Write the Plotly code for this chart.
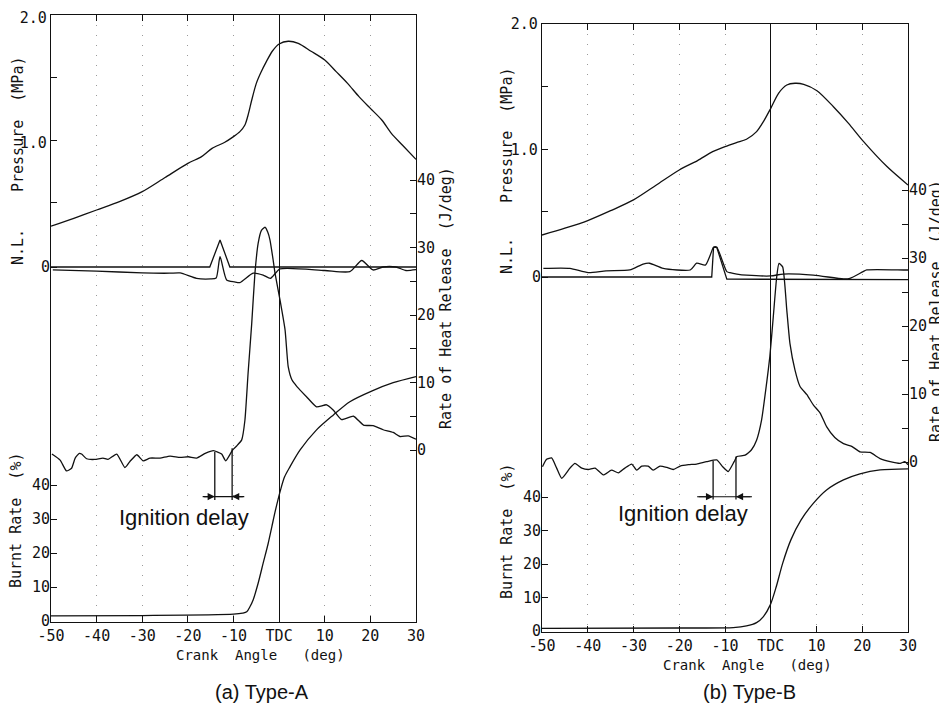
import plotly.graph_objects as go

W, H = 947, 711          # browser window
OFF = 8                  # default page margin of the html body
FW, FH = W - OFF, H - OFF

# ---------------- data: shared ----------------
x_tick_vals = [-50, -40, -30, -20, -10, 0, 10, 20, 30]
x_tick_text = ['-50', '-40', '-30', '-20', '-10', 'TDC', '10', '20', '30']

# ---------------- data: (a) Type-A ----------------
a_p_deg = [-50, -45, -40, -35, -30, -25, -20, -17, -14.7, -12, -10, -8.6, -7.5, -6.8, -6, -5, -4, -2.8, -1.5,
           0, 2, 4.2, 7, 10, 12.5, 15, 17.5, 20, 22.5, 24.6, 27, 30]
a_p_val = [0.31, 0.373, 0.44, 0.507, 0.587, 0.70, 0.813, 0.867, 0.933, 0.98, 1.027, 1.067, 1.12, 1.2, 1.32,
           1.453, 1.54, 1.627, 1.71, 1.768, 1.79, 1.773, 1.71, 1.64, 1.547, 1.453, 1.347, 1.253, 1.16,
           1.053, 0.96, 0.845]

a_hr_deg = [-49.8, -48, -46.6, -45.5, -44.7, -43.8, -43.3, -42.2, -40.4, -38.6, -37.5, -35.6, -33.8, -32.7,
            -31.2, -29.8, -28.3, -26.1, -23.9, -21.7, -19.9, -18.1, -16.2, -14.4, -12.6, -11.7, -10.2, -9.3,
            -8.2, -7.5, -6.8, -6.0, -5.3, -4.6, -3.9, -3.1, -2.5, -2.0, -1.3, -0.9, 0.2, 1.3, 2.0, 2.8, 3.9,
            6.0, 8.2, 10.4, 11.9, 13.7, 16.3, 18.5, 20.6, 22.8, 25.0, 26.5, 28.3, 30]
a_hr_val = [-0.6, -1.5, -3.1, -2.7, -1.2, -0.5, -0.6, -1.3, -1.4, -1.2, -1.4, -0.6, -2.6, -1.7,
            -0.7, -1.6, -1.2, -1.2, -0.9, -1.1, -1.0, -1.2, -0.5, -0.1, -0.6, -1.6, 0.0, 0.6,
            1.5, 4.4, 11.4, 18.8, 26.2, 30.6, 32.5, 33.0, 32.3, 31.1, 28.1, 26.2, 22.2, 17.8, 12.3, 10.4, 9.4,
            7.9, 6.4, 6.7, 5.9, 4.5, 5.0, 3.7, 3.6, 3.0, 2.6, 2.0, 2.1, 1.6]

a_br_deg = [-50, -30, -10, -8, -7.1, -6.4, -5.7, -4.6, -3.5, -2.4, -1.6, -0.8, 0.3, 1.2, 2.4, 4.6, 8.2,
            11.9, 15.5, 20.4, 25, 30]
a_br_val = [1.5, 1.6, 2.0, 2.3, 2.7, 4.2, 6.2, 11.1, 17.0, 22.8, 27.7, 32.6, 38.5, 42.4, 45.4, 50.3, 56.2,
            60.6, 64.5, 67.7, 70.1, 71.9]

a_nl_deg = [-50, -15.2, -12.95, -10.8, 30]
a_nl_val = [0, 0, 1.0, 0, 0]

a_nl2_deg = [-49.6, -40, -30, -24, -21.7, -18.1, -15, -13.8, -12.95, -11.5, -9.8, -8.6, -5.7, -3.5, -1.9,
             0.2, 10, 15.5, 18.1, 20.6, 22.7, 25.6, 27.8, 30]
a_nl2_val = [-0.11, -0.15, -0.22, -0.23, -0.22, -0.42, -0.44, -0.41, 0.38, -0.48, -0.55, -0.58, -0.23,
             -0.30, -0.42, -0.07, -0.13, -0.17, 0.24, -0.11, 0.0, 0.0, -0.13, -0.10]

a_ign = [-14.1, -10.3]          # ignition delay interval (deg)
a_ign_top = [-0.25, 0.25]       # J/deg where the markers meet the curve
a_ign_bottom = -7.4
a_ign_arrow = -6.9

# ---------------- data: (b) Type-B ----------------
b_p_deg = [-50, -45, -40, -35, -30, -25, -20, -16, -12.7, -10, -7.5, -5.3, -3.1, -1.6, 0, 1.7, 3.5, 5.3,
           7.2, 10.1, 13.7, 17, 20.3, 25.4, 30]
b_p_val = [0.316, 0.37, 0.431, 0.51, 0.596, 0.715, 0.835, 0.91, 0.981, 1.021, 1.053, 1.08, 1.141, 1.221,
           1.327, 1.447, 1.513, 1.527, 1.519, 1.468, 1.34, 1.207, 1.061, 0.862, 0.715]

b_hr_deg = [-49.9, -49, -47.9, -46.8, -45.7, -43.9, -42.8, -41.3, -39.9, -38.4, -36.6, -34.8, -33.3, -31.9,
            -30.4, -29.3, -28.2, -26.8, -25.7, -24.2, -22.7, -21.3, -19.8, -18.0, -16.2, -14.0, -11.8,
            -10.5, -9.3, -8.0, -7.4, -5.6, -4.2, -3.1, -2.0, -0.9, -0.2, 0.56, 1.3, 1.8, 2.6, 3.5, 4.2,
            5.3, 6.4, 7.9, 9.3, 10.8, 12.2, 14.0, 15.9, 17.7, 19.5, 21.7, 23.9, 26.1, 28.3, 29.3, 30]
b_hr_val = [-0.7, 0.4, 0.6, -0.9, -2.4, -0.9, -0.2, -0.9, -1.1, -0.9, -1.9, -1.2, -1.6, -0.9,
            -0.3, -1.2, -0.6, -0.6, -1.2, -0.6, -0.8, -1.1, -0.6, -0.4, -0.3, 0.05, 0.3,
            -0.7, -1.4, 0.05, 0.8, 1.0, 1.8, 3.2, 6.2, 11.6, 15.5, 21.4, 27.2, 29.2, 28.7, 22.4, 17.4,
            13.5, 11.1, 9.9, 8.4, 7.2, 5.2, 3.6, 2.7, 2.3, 1.5, 1.4, 0.5, 0.05, -0.2, 0.05, -0.4]

b_br_deg = [-50, -20, -8.2, -5.3, -3.1, -1.6, -0.1, 1.2, 2.6, 4.4, 6.6, 9.3, 12.2, 15.9, 19.5, 23.9, 30]
b_br_val = [0.8, 0.9, 1.0, 1.5, 2.5, 4.3, 7.8, 13.2, 20.2, 27.2, 33.1, 38.1, 42.1, 45.1, 46.9, 48.1, 48.4]

b_nl_deg = [-50, -12.9, -12.5, -11.8, -9.6, 30]
b_nl_val = [0, 0, 1.1, 1.1, -0.08, -0.1]

b_nl2_deg = [-49.7, -43.9, -39.9, -36, -30.8, -27.9, -26.5, -23.5, -17.6, -16.2, -14.3, -13.3, -12.5,
             -11.8, -9.6, -8.9, -7.4, -5.3, 0, 2.7, 9.3, 15.9, 17.3, 20.2, 21, 29, 30]
b_nl2_val = [0.32, 0.32, 0.16, 0.23, 0.26, 0.48, 0.51, 0.32, 0.26, 0.51, 0.44, 0.78, 1.1,
             1.1, 0.2, 0.16, 0.11, 0.07, 0.04, 0.11, 0.07, -0.07, -0.05, 0.2, 0.26, 0.26, 0.26]

b_ign = [-12.6, -7.6]
b_ign_top = [0.2, 0.8]
b_ign_bottom = -5.5
b_ign_arrow = -5.1

# ---------------- layout geometry (page pixels) ----------------
def px_x(p):
    return (p - OFF) / FW


def px_y(p):
    return 1 - (p - OFF) / FH


def rng(v0, y0, s, yb, yt):
    return [v0 - (yb - y0) / s, v0 + (y0 - yt) / s]


A = dict(xl=51, xr=416, yt=15, yb=622)
B = dict(xl=542, xr=908, yt=24, yb=632)

MONO = dict(family='DejaVu Sans Mono', size=15, color='#111')
MONO_S = dict(family='DejaVu Sans Mono', size=14, color='#111')
LINE = dict(color='#111', width=1.3)

fig = go.Figure()


def add_panel(fig, xa, ya, yhr, ybr, ynl, p_deg, p_val, hr_deg, hr_val, br_deg, br_val,
              nl_deg, nl_val, nl2_deg, nl2_val, ign, ign_top, ign_bottom, ign_arrow):
    fig.add_trace(go.Scatter(x=p_deg, y=p_val, xaxis=xa, yaxis=ya, mode='lines',
                             line=dict(LINE, shape='spline', smoothing=0.8)))
    fig.add_trace(go.Scatter(x=nl_deg, y=nl_val, xaxis=xa, yaxis=ynl, mode='lines', line=LINE))
    fig.add_trace(go.Scatter(x=nl2_deg, y=nl2_val, xaxis=xa, yaxis=ynl, mode='lines',
                             line=dict(LINE, shape='spline', smoothing=0.6)))
    fig.add_trace(go.Scatter(x=hr_deg, y=hr_val, xaxis=xa, yaxis=yhr, mode='lines',
                             line=dict(LINE, shape='spline', smoothing=0.5)))
    fig.add_trace(go.Scatter(x=br_deg, y=br_val, xaxis=xa, yaxis=ybr, mode='lines',
                             line=dict(LINE, shape='spline', smoothing=0.8)))
    for d, t in zip(ign, ign_top):
        fig.add_trace(go.Scatter(x=[d, d], y=[t, ign_bottom], xaxis=xa, yaxis=yhr, mode='lines',
                                 line=dict(color='#111', width=1.3)))
    span = ign[1] - ign[0]
    fig.add_trace(go.Scatter(x=[ign[0] - 0.7 * span, ign[1] + 0.7 * span], y=[ign_arrow, ign_arrow],
                             xaxis=xa, yaxis=yhr, mode='lines', line=dict(color='#111', width=1.1)))
    for d, a in ((ign[0], ign[0] - 0.7 * span), (ign[1], ign[1] + 0.7 * span)):
        fig.add_annotation(x=d, y=ign_arrow, ax=a, ay=ign_arrow, xref=xa, yref=yhr, axref=xa, ayref=yhr,
                           showarrow=True, arrowhead=2, arrowsize=1.3, arrowwidth=1.1,
                           arrowcolor='#111', text='')


add_panel(fig, 'x', 'y', 'y2', 'y3', 'y4', a_p_deg, a_p_val, a_hr_deg, a_hr_val, a_br_deg, a_br_val,
          a_nl_deg, a_nl_val, a_nl2_deg, a_nl2_val, a_ign, a_ign_top, a_ign_bottom, a_ign_arrow)
add_panel(fig, 'x2', 'y5', 'y6', 'y7', 'y8', b_p_deg, b_p_val, b_hr_deg, b_hr_val, b_br_deg, b_br_val,
          b_nl_deg, b_nl_val, b_nl2_deg, b_nl2_val, b_ign, b_ign_top, b_ign_bottom, b_ign_arrow)


def xaxis(P, anchor):
    return dict(domain=[px_x(P['xl']), px_x(P['xr'])], range=[-50, 30], anchor=anchor,
                tickvals=x_tick_vals, ticktext=x_tick_text, ticks='inside', ticklen=6,
                tickcolor='#111', showline=True, linecolor='#111', linewidth=1.3, mirror='ticks',
                showgrid=True, gridcolor='#9a9a9a', griddash='1px,9px', gridwidth=1,
                zeroline=True, zerolinecolor='#111', zerolinewidth=1.3, tickfont=MONO,
                automargin=False, ticklabeloverflow='allow')


def yax(P, r, vals, text, side='left', line=False, overlay=None, anchor='x', shift=0):
    d = dict(domain=[px_y(P['yb']), px_y(P['yt'])], range=r, tickvals=vals, ticktext=text,
             ticks='inside', ticklen=6, tickcolor='#111', side=side, showgrid=False, zeroline=False,
             showline=line, linecolor='#111', linewidth=1.3, mirror=line, tickfont=MONO,
             anchor=anchor, automargin=False, ticklabeloverflow='allow', ticklabelshift=shift)
    if overlay:
        d['overlaying'] = overlay
    return d


p_ticks = [0.5, 1.0, 1.5, 2.0]
p_text = ['', '1.0', '', '2.0']
hr_ticks = [0, 5, 10, 15, 20, 25, 30, 35, 40]
hr_text = ['0', '', '10', '', '20', '', '30', '', '40']
br_ticks = [0, 10, 20, 30, 40]
br_text = ['0', '10', '20', '30', '40']

fig.update_layout(
    width=FW, height=FH, margin=dict(l=0, r=0, t=0, b=0, autoexpand=False),
    paper_bgcolor='white', plot_bgcolor='white', showlegend=False,
    xaxis=xaxis(A, 'y'),
    xaxis2=xaxis(B, 'y5'),
    yaxis=yax(A, rng(0, 265, 125, A['yb'], A['yt']), p_ticks, p_text, line=True, shift=3),
    yaxis2=yax(A, rng(0, 450, 6.75, A['yb'], A['yt']), hr_ticks, hr_text, side='right', overlay='y'),
    yaxis3=yax(A, rng(0, 621, 3.4, A['yb'], A['yt']), br_ticks, br_text, overlay='y'),
    yaxis4=yax(A, rng(0, 267, 27, A['yb'], A['yt']), [0], ['0'], overlay='y'),
    yaxis5=yax(B, rng(0, 274.6, 125.3, B['yb'], B['yt']), p_ticks, p_text, line=True, anchor='x2'),
    yaxis6=yax(B, rng(0, 462, 6.8, B['yb'], B['yt']), hr_ticks, hr_text, side='right', overlay='y5',
               anchor='x2'),
    yaxis7=yax(B, rng(0, 631, 3.35, B['yb'], B['yt']), br_ticks, br_text, overlay='y5', anchor='x2'),
    yaxis8=yax(B, rng(0, 277, 27, B['yb'], B['yt']), [0], ['0'], overlay='y5', anchor='x2'),
)


def label(text, px, py, angle=0, font=MONO):
    fig.add_annotation(text=text, x=px_x(px), y=px_y(py), xref='paper', yref='paper', showarrow=False,
                       textangle=angle, font=font, xanchor='center', yanchor='middle')


nb = '\u00a0'
label('Pressure' + nb * 2 + '(MPa)', 18, 125, -90)
label('N.L.', 18, 247, -90)
label('Burnt' + nb + 'Rate' + nb * 2 + '(%)', 16, 521, -90)
label('Rate' + nb + 'of' + nb + 'Heat' + nb + 'Release' + nb * 2 + '(J/deg)', 446, 298, -90)
label('Crank' + nb * 2 + 'Angle' + nb * 3 + '(deg)', 260, 655, font=MONO_S)

label('Pressure' + nb * 2 + '(MPa)', 507, 135, -90)
label('N.L.', 507, 256, -90)
label('Burnt' + nb + 'Rate' + nb * 2 + '(%)', 507, 531, -90)
label('Rate' + nb + 'of' + nb + 'Heat' + nb + 'Release' + nb * 2 + '(J/deg)', 936, 311, -90)
label('Crank' + nb * 2 + 'Angle' + nb * 3 + '(deg)', 747, 665, font=MONO_S)

SANS = dict(family='Liberation Sans, Arial', size=22, color='#111')
label('Ignition delay', 184, 517, font=SANS)
label('Ignition delay', 683, 513, font=SANS)
TITLE = dict(family='Liberation Sans, Arial', size=20, color='#111')
label('(a) Type-A', 262, 692, font=TITLE)
label('(b) Type-B', 749, 692, font=TITLE)

fig.write_html('out.html')
